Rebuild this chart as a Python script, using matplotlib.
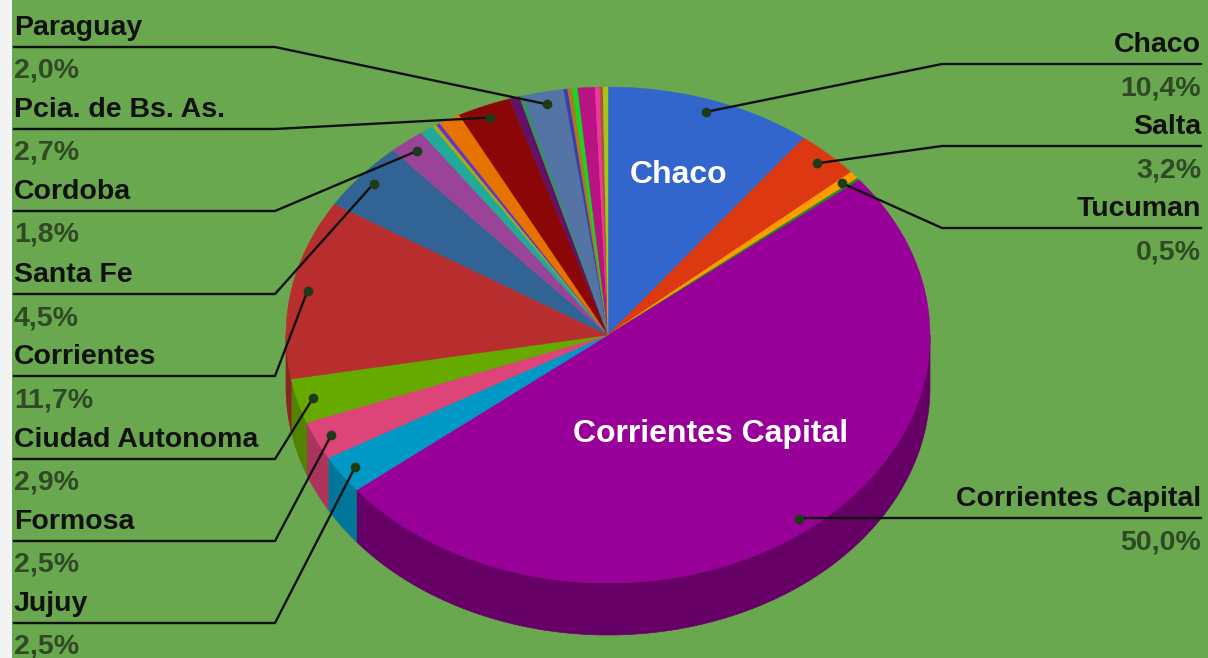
# Recreate the 3D pie chart of origin of students
import numpy as np
import matplotlib
matplotlib.use('Agg')
import matplotlib.pyplot as plt
from matplotlib.colors import to_rgb

# Slice values in percent, clockwise from the top
slices = ['Chaco', 'Salta', 'Tucuman', 'Misiones', 'Corrientes Capital', 'Jujuy', 'Formosa',
          'Ciudad Autonoma', 'Corrientes', 'Santa Fe', 'Cordoba', 'Otro 1', 'Otro 2', 'Otro 3',
          'Otro 4', 'Pcia. de Bs. As.', 'Otro 5', 'Otro 6', 'Paraguay', 'Otro 7', 'Otro 8',
          'Otro 9', 'Otro 10', 'Otro 11', 'Otro 12', 'Otro 13']
values = [10.4, 3.2, 0.5, 0.15, 50.0, 2.5, 2.5,
          2.9, 11.7, 4.5, 1.8, 0.7, 0.2, 0.2,
          1.1, 2.7, 0.5, 0.2, 2.04, 0.2, 0.22,
          0.28, 0.86, 0.24, 0.15, 0.25]
colors = ['#3366cc', '#dc3912', '#ff9900', '#109618', '#990099', '#0099c6', '#dd4477',
          '#66aa00', '#b82e2e', '#316395', '#994499', '#22aa99', '#aaaa11', '#6633cc',
          '#e67300', '#8b0707', '#651067', '#329262', '#5574a6', '#3b3eac', '#b77322',
          '#16d620', '#b91383', '#f4359e', '#9c5935', '#a9c413']

# Labels with callouts
left_labels = ['Paraguay', 'Pcia. de Bs. As.', 'Cordoba', 'Santa Fe', 'Corrientes',
               'Ciudad Autonoma', 'Formosa', 'Jujuy']
left_pct = ['2,0%', '2,7%', '1,8%', '4,5%', '11,7%', '2,9%', '2,5%', '2,5%']
left_y = [47, 129, 211, 294, 376, 459, 541, 623]
right_labels = ['Chaco', 'Salta', 'Tucuman', 'Corrientes Capital']
right_pct = ['10,4%', '3,2%', '0,5%', '50,0%']
right_y = [64, 146, 228, 518]

cx, cy, rx, ry, depth = 608, 335, 322, 248, 52
font = 'Liberation Sans'
fs = 20.5


def arc(a, b):
    t = np.radians(np.linspace(a, b, max(int(abs(b - a) * 3), 2)))
    return cx + rx * np.sin(t), cy - ry * np.cos(t)


fig = plt.figure(figsize=(12.08, 6.58), dpi=100, facecolor='#6aa84f')
ax = fig.add_axes([0, 0, 1, 1])
ax.set_xlim(0, 1208)
ax.set_ylim(658, 0)
ax.axis('off')
ax.axvspan(0, 12, color='#f3f3f3', lw=0)

shares = np.array(values) / sum(values) * 360
ends = np.cumsum(shares)
starts = ends - shares
mids = {n: (a + b) / 2 for n, a, b in zip(slices, starts, ends)}

# side wall, only the front half shows
for a, b, c in zip(starts, ends, colors):
    a2, b2 = max(a, 90), min(b, 270)
    if a2 < b2:
        x, y = arc(a2, b2)
        shade = 0.667 if c == '#990099' else 0.77
        wall = tuple(v * shade for v in to_rgb(c))
        ax.fill(np.r_[x, x[::-1]], np.r_[y, y[::-1] + depth], color=wall, lw=0.5)

# top face
for a, b, c in zip(starts, ends, colors):
    x, y = arc(a, b)
    ax.fill(np.r_[cx, x], np.r_[cy, y], color=c, lw=0.3)


def callout(name, pct, ly, side):
    t = np.radians(mids[name])
    dx = cx + 0.95 * rx * np.sin(t)
    dy = cy - 0.95 * ry * np.cos(t)
    if side == 'left':
        xs, elbow, ha = 14, 275, 'left'
    else:
        xs, elbow, ha = 1201, 942, 'right'
    if name == 'Corrientes Capital':
        elbow = dx
    ax.plot([xs, elbow, dx], [ly, ly, dy], color='#111111', lw=1.7, solid_joinstyle='round')
    ax.plot(dx, dy, 'o', color='#1f3a18', ms=7, mew=0)
    ax.text(xs, ly - 19, name, family=font, weight='bold', fontsize=fs, color='#111111',
            ha=ha, va='center')
    ax.text(xs, ly + 24, pct, family=font, weight='bold', fontsize=fs, color='#2f4a25',
            ha=ha, va='center')


for n, p, ly in zip(left_labels, left_pct, left_y):
    callout(n, p, ly, 'left')
for n, p, ly in zip(right_labels, right_pct, right_y):
    callout(n, p, ly, 'right')

# labels inside the big slices
ax.text(679, 175, 'Chaco', family=font, weight='bold', fontsize=23, color='white', ha='center', va='center')
ax.text(711, 434, 'Corrientes Capital', family=font, weight='bold', fontsize=23, color='white', ha='center', va='center')

fig.savefig('out.png', dpi=100, facecolor=fig.get_facecolor())
